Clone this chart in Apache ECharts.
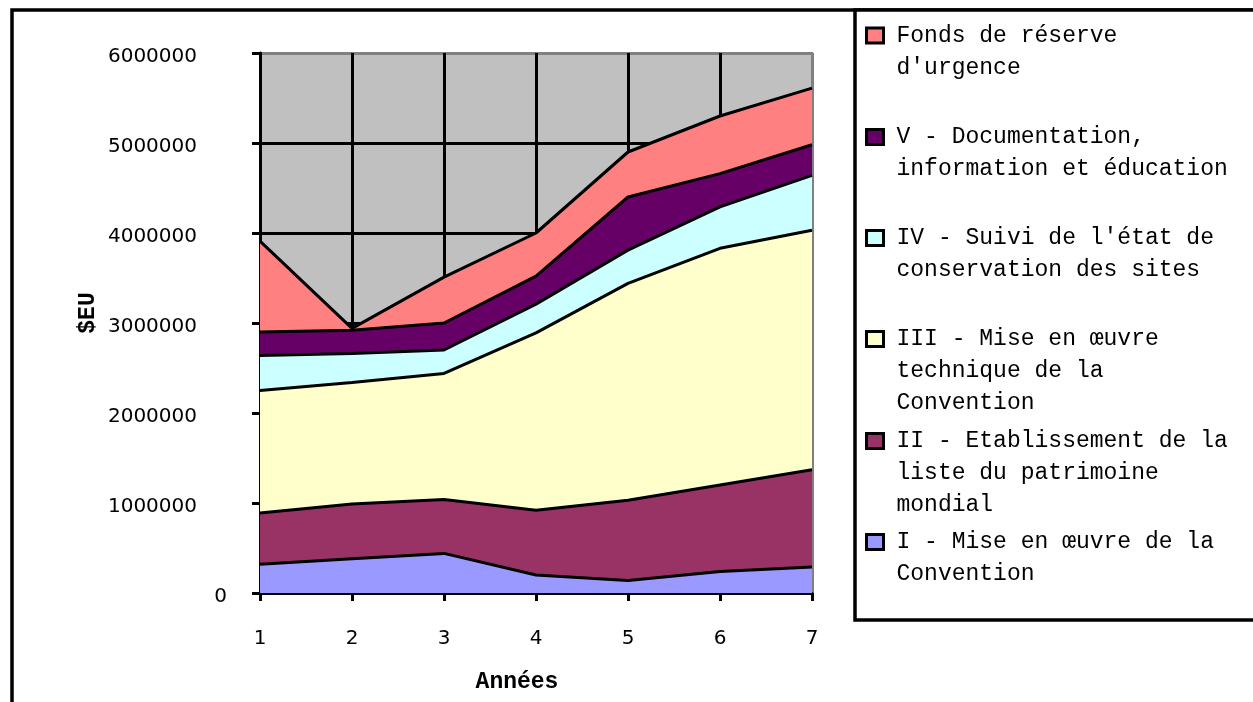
<!DOCTYPE html>
<html>
<head>
<meta charset="utf-8">
<script src="https://cdn.jsdelivr.net/npm/echarts@6/dist/echarts.min.js"></script>
<style>
html,body{margin:0;padding:0;background:#fff;}
#chart{width:1253px;height:702px;}
</style>
</head>
<body>
<div id="chart"></div>
<script>
const categories = ['1', '2', '3', '4', '5', '6', '7'];
const seriesNames = [
  'I - Mise en œuvre de la Convention',
  'II - Etablissement de la liste du patrimoine mondial',
  'III - Mise en œuvre technique de la Convention',
  "IV - Suivi de l'état de conservation des sites",
  'V - Documentation, information et éducation',
  "Fonds de réserve d'urgence"
];
const legendLines = [
  ['I - Mise en œuvre de la', 'Convention'],
  ['II - Etablissement de la', 'liste du patrimoine', 'mondial'],
  ['III - Mise en œuvre', 'technique de la', 'Convention'],
  ["IV - Suivi de l'état de", 'conservation des sites'],
  ['V - Documentation,', 'information et éducation'],
  ['Fonds de réserve', "d'urgence"]
];
const valuesI = [320000, 380000, 440000, 200000, 140000, 240000, 290000];
const valuesII = [570000, 610000, 600000, 720000, 890000, 960000, 1080000];
const valuesIII = [1360000, 1350000, 1400000, 1970000, 2410000, 2630000, 2660000];
const valuesIV = [390000, 320000, 260000, 320000, 370000, 460000, 610000];
const valuesV = [260000, 260000, 300000, 310000, 590000, 370000, 340000];
const valuesFonds = [1010000, 20000, 510000, 480000, 500000, 640000, 630000];
const colors = ['#9999FF', '#993366', '#FFFFCC', '#CCFFFF', '#660066', '#FF8080'];
const allValues = [valuesI, valuesII, valuesIII, valuesIV, valuesV, valuesFonds];

// first-line centre of each legend entry (I..Fonds)
const legendFirstLine = [542, 441, 339, 238, 137, 35.5];
const LH = 32;

const series = seriesNames.map((name, i) => ({
  name: name,
  type: 'line',
  stack: 'total',
  data: allValues[i],
  showSymbol: false,
  symbol: 'none',
  z: 8 - i,
  itemStyle: {color: colors[i]},
  lineStyle: {color: '#000', width: 3},
  areaStyle: {color: colors[i], opacity: 1},
  emphasis: {disabled: true}
}));

const legends = seriesNames.map((name, i) => {
  const lines = legendLines[i];
  const n = lines.length;
  const text = '\n'.repeat(n - 1) + lines.join('\n');
  return {
    show: true,
    orient: 'vertical',
    left: 865,
    top: legendFirstLine[i] - (2 * n - 1) * LH / 2,
    padding: 0,
    selectedMode: false,
    icon: 'rect',
    itemWidth: 17,
    itemHeight: 15,
    itemStyle: {color: colors[i], borderColor: '#000', borderWidth: 3},
    data: [name],
    formatter: function () { return text; },
    textStyle: {
      fontFamily: 'Liberation Mono',
      fontSize: 23,
      lineHeight: LH,
      color: '#000',
      padding: [0, 0, 0, 8]
    }
  };
});

const chart = echarts.init(document.getElementById('chart'), null, {renderer: 'canvas'});
chart.setOption({
  animation: false,
  backgroundColor: '#fff',
  graphic: [
    {type: 'rect', z: -10, shape: {x: 12, y: 10, width: 1400, height: 900}, style: {fill: 'none', stroke: '#000', lineWidth: 3.5}},
    {type: 'rect', z: -5, shape: {x: 855, y: 10, width: 500, height: 610}, style: {fill: '#fff', stroke: '#000', lineWidth: 3.5}}
  ],
  legend: legends,
  grid: {
    left: 260, right: 441, top: 53, bottom: 109,
    show: true, backgroundColor: '#C0C0C0', borderColor: '#808080', borderWidth: 2
  },
  xAxis: {
    type: 'category',
    data: categories,
    boundaryGap: false,
    name: 'Années',
    nameLocation: 'middle',
    nameGap: 78,
    nameTextStyle: {fontFamily: 'Liberation Mono', fontWeight: 'bold', fontSize: 23, color: '#000', padding: [0, 38, 0, 0]},
    axisLine: {lineStyle: {color: '#000', width: 3}},
    axisTick: {show: true, length: 8, lineStyle: {color: '#000', width: 3}},
    axisLabel: {fontFamily: 'DejaVu Sans', fontSize: 20, color: '#000', margin: 36},
    splitLine: {show: true, lineStyle: {color: ['#000', '#000', '#000', '#000', '#000', '#000', '#808080'], width: 3}}
  },
  yAxis: {
    type: 'value',
    min: 0, max: 6000000, interval: 1000000,
    name: '$EU',
    nameLocation: 'middle',
    nameRotate: 90,
    nameGap: 160,
    nameTextStyle: {fontFamily: 'Liberation Mono', fontWeight: 'bold', fontSize: 23, color: '#000', padding: [0, 0, 0, 20]},
    axisLine: {show: true, lineStyle: {color: '#000', width: 3}},
    axisTick: {show: true, length: 8, lineStyle: {color: '#000', width: 3}},
    axisLabel: {
      margin: 33,
      formatter: function (v) { return v === 0 ? '{z|0}' : '{n|' + v + '}'; },
      rich: {
        z: {fontFamily: 'DejaVu Sans', fontSize: 20, color: '#000', padding: [8, 0, 0, 0]},
        n: {fontFamily: 'DejaVu Sans', fontSize: 20, color: '#000', padding: [8, 30, 0, 0]}
      }
    },
    splitLine: {show: true, lineStyle: {color: ['#000', '#000', '#000', '#000', '#000', '#000', '#808080'], width: 3}}
  },
  series: series
});
</script>
</body>
</html>
